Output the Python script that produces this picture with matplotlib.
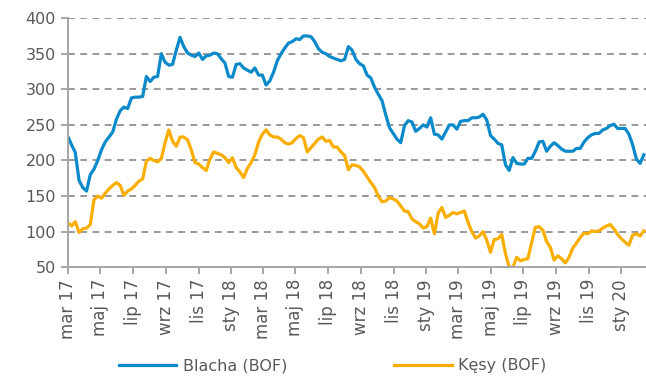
import pandas as pd
import matplotlib.pyplot as plt
import matplotlib.dates as mdates

# weekly prices, first week of March 2017 onwards
start = "2017-03-01"

blacha = [
    234, 222, 211, 172, 162, 157, 180, 188, 200, 215,
    226, 233, 240, 258, 270, 275, 273, 288, 289, 289,
    290, 318, 311, 317, 318, 350, 338, 334, 335, 355,
    373, 360, 351, 348, 346, 351, 342, 347, 348, 351,
    350, 343, 337, 318, 317, 335, 336, 330, 327, 324,
    330, 320, 320, 306, 312, 324, 340, 350, 358, 365,
    367, 371, 370, 375, 375, 374, 367, 357, 352, 350,
    346, 344, 342, 340, 342, 360, 355, 342, 336, 333,
    320, 316, 303, 293, 284, 264, 246, 238, 230, 225,
    249, 256, 254, 241, 245, 250, 247, 260, 237, 236,
    230, 240, 250, 250, 244, 255, 256, 256, 260, 260,
    261, 265, 257, 235, 230, 224, 222, 194, 186, 204,
    196, 195, 195, 203, 203, 213, 226, 227, 213, 220,
    225, 221, 216, 213, 213, 213, 217, 217, 226, 232,
    236, 238, 238, 243, 245, 249, 251, 245, 245, 245,
    237, 222, 202, 196, 208,
]

kesy = [
    113, 108, 114, 99, 104, 105, 110, 145, 150, 147,
    154, 160, 165, 169, 165, 151, 157, 160, 165, 171,
    174, 199, 203, 200, 198, 203, 225, 243, 227, 220,
    233, 233, 229, 215, 197, 195, 190, 186, 202, 212,
    210, 208, 204, 197, 204, 190, 184, 176, 189, 197,
    208, 226, 237, 243, 236, 233, 233, 230, 225, 223,
    225, 231, 235, 232, 212, 218, 224, 230, 233, 227,
    228, 219, 219, 212, 207, 187, 194, 193, 191, 185,
    177, 169, 162, 150, 142, 143, 148, 146, 143, 136,
    129, 128, 118, 114, 111, 105, 107, 119, 97, 126,
    134, 120, 123, 127, 125, 127, 129, 113, 100, 91,
    94, 100, 88, 71, 89, 90, 96, 69, 50, 50,
    64, 59, 61, 62, 85, 106, 107, 102, 86, 78,
    60, 66, 62, 56, 64, 77, 84, 92, 98, 97,
    101, 100, 101, 105, 108, 110, 104, 96, 90, 85,
    81, 95, 97, 94, 101,
]

months_pl = ["sty", "lut", "mar", "kwi", "maj", "cze",
             "lip", "sie", "wrz", "paź", "lis", "gru"]

y_ticks = [50, 100, 150, 200, 250, 300, 350, 400]

dates = pd.date_range(start, periods=len(blacha), freq="7D")
df = pd.DataFrame({"Blacha (BOF)": blacha, "Kęsy (BOF)": kesy}, index=dates)

plt.rcParams["font.family"] = "DejaVu Sans"
txt = "#595959"
axcol = "#a6a6a6"

fig = plt.figure(figsize=(6.46, 3.78), dpi=100)
ax = fig.add_axes([0.105, 0.293, 0.895, 0.659])

ax.plot(df.index, df["Blacha (BOF)"], color="#0a8acb", lw=2.3, label="Blacha (BOF)")
ax.plot(df.index, df["Kęsy (BOF)"], color="#fbae00", lw=2.3, label="Kęsy (BOF)")

ax.set_ylim(50, 400)
ax.set_yticks(y_ticks)
ax.set_xlim(pd.Timestamp(start), dates[-1] + pd.Timedelta(days=4))

tick_dates = pd.date_range("2017-03-01", "2020-01-01", freq="2MS")
ax.set_xticks(tick_dates)
ax.set_xticklabels([f"{months_pl[d.month - 1]} {d.year % 100:02d}" for d in tick_dates],
                   rotation=90, fontsize=12)

for v in y_ticks[1:]:
    ax.axhline(v, color="#999999", lw=1.4, ls=(0, (3.5, 2.8)), zorder=0)

for s in ["top", "right"]:
    ax.spines[s].set_visible(False)
for s in ["left", "bottom"]:
    ax.spines[s].set_color(axcol)
    ax.spines[s].set_linewidth(1.4)

ax.tick_params(axis="both", colors=axcol, labelcolor=txt, length=5, width=1.4)
ax.tick_params(axis="y", labelsize=11.5)

fig.legend(loc="center", bbox_to_anchor=(0.515, 0.032), ncol=2, frameon=False,
           fontsize=11.5, labelcolor=txt, handlelength=3.6, columnspacing=6.7,
           handletextpad=0.4)

plt.savefig("out.png", dpi=100)
